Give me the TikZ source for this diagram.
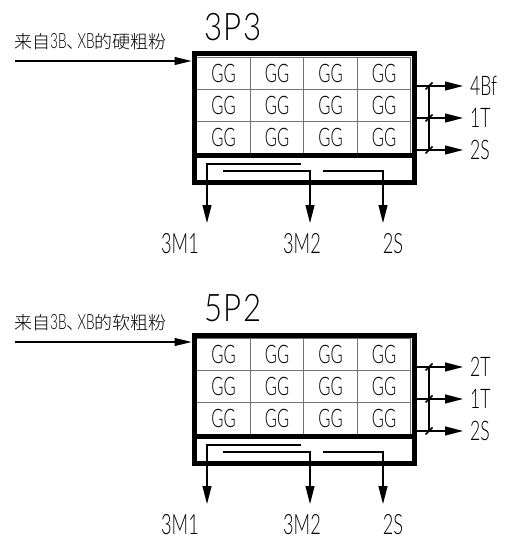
\documentclass[tikz,border=0pt]{standalone}
\usepackage{fontspec}
\IfFontExistsTF{Lato Light}
  {\setmainfont{Lato Light}[FakeStretch=0.65]}
  {\setmainfont{Liberation Sans}[FakeStretch=0.65]}
\IfFontExistsTF{Noto Sans CJK SC Light}
  {\newfontfamily\cjk{Noto Sans CJK SC Light}}
  {\newfontfamily\cjk{Noto Sans CJK SC}}
\usetikzlibrary{arrows.meta}
\tikzset{
  frame/.style={draw, line width=5pt, minimum width=220pt, minimum height=128.5pt, inner sep=0pt},
  cell/.style={draw=black!55, line width=0.8pt, minimum width=53.5pt, minimum height=32pt, inner sep=0pt, font=\fontsize{25.5}{25.5}\selectfont},
  flow/.style={draw, line width=1.1pt, -{Triangle[length=18pt,width=9pt]}},
  inner/.style={draw, line width=1.1pt},
  tick/.style={draw, line width=1.6pt},
  outlbl/.style={inner sep=0pt, font=\fontsize{28}{28}\selectfont},
  sidelbl/.style={inner sep=0pt, anchor=west, font=\fontsize{27}{27}\selectfont},
  titlelbl/.style={inner sep=0pt, font=\fontsize{38}{38}\selectfont\addfontfeature{FakeStretch=0.82,LetterSpace=3}},
  srclbl/.style={inner sep=0pt, anchor=west, font=\fontsize{21}{21}\selectfont},
}
\newcommand\cjktxt[1]{{\cjk\fontsize{18}{18}\selectfont #1}}
\newcommand\mydiagram[7]{%
  \begin{scope}[shift={(0,#1)}]
    % cells
    \foreach \c [count=\i] in {223.5,277,330.5,384}{
      \foreach \r [count=\j] in {73,105,137}{
        \node[cell] (c#7\i\j) at (\c,\r) {GG};
      }
    }
    \node[frame] (box#7) at (304,118.25) {};
    \draw[line width=5pt] (194,155.5) -- (414,155.5);
    % title and source
    \node[titlelbl] (t#7) at (233,27) {#2};
    \node[srclbl] (s#7) at (14,42) {#3};
    \coordinate (in#7) at (15,61);
    \draw[flow, -{Triangle[length=17pt,width=8pt]}] (in#7) -- (in#7 -| box#7.west);
    % bottom outlets
    \node[outlbl] (m1#7) at (180,244) {3M1};
    \node[outlbl] (m2#7) at (302,244) {3M2};
    \node[outlbl] (m3#7) at (393,244) {2S};
    \coordinate (a1#7) at (301,164);
    \coordinate (a2#7) at (207,164);
    \coordinate (a3#7) at (207,223);
    \coordinate (b1#7) at (223,171);
    \coordinate (b2#7) at (310,171);
    \coordinate (b3#7) at (310,223);
    \coordinate (d1#7) at (323,171);
    \coordinate (d2#7) at (383,171);
    \coordinate (d3#7) at (383,223);
    \draw[flow] (a1#7) -- (a2#7) -- (a3#7);
    \draw[flow] (b1#7) -- (b2#7) -- (b3#7);
    \draw[flow] (d1#7) -- (d2#7) -- (d3#7);
    % side outlets
    \node[sidelbl] (r1#7) at (470,86) {#4};
    \node[sidelbl] (r2#7) at (470,118) {#5};
    \node[sidelbl] (r3#7) at (470,150) {#6};
    \coordinate (p1#7) at (414.5,86);
    \coordinate (p2#7) at (414.5,118);
    \coordinate (p3#7) at (414.5,150);
    \foreach \k in {1,2,3}{
      \draw[flow, shorten >=7pt] (p\k#7) -- (r\k#7.west);
    }
    \coordinate (v1#7) at (429,86);
    \coordinate (v3#7) at (429,150);
    \draw[inner] (v1#7) -- (v3#7);
    \foreach \yy in {86,118,150}{
      \draw[tick] (425.5,\yy+3.5) -- (432.5,\yy-3.5);
    }
  \end{scope}
}
\begin{document}
\begin{tikzpicture}[x=1pt,y=-1pt]
  \useasboundingbox (0,0) rectangle (511,540);
  \fill[white] (0,0) rectangle (511,540);
  \mydiagram{0}{3P3}{\cjktxt{来自}3B\cjktxt{、}\kern-7pt XB\cjktxt{的硬粗粉}}{4Bf}{1T}{2S}{u}
  \mydiagram{281}{5P2}{\cjktxt{来自}3B\cjktxt{、}\kern-7pt XB\cjktxt{的软粗粉}}{2T}{1T}{2S}{w}
\end{tikzpicture}
\end{document}
